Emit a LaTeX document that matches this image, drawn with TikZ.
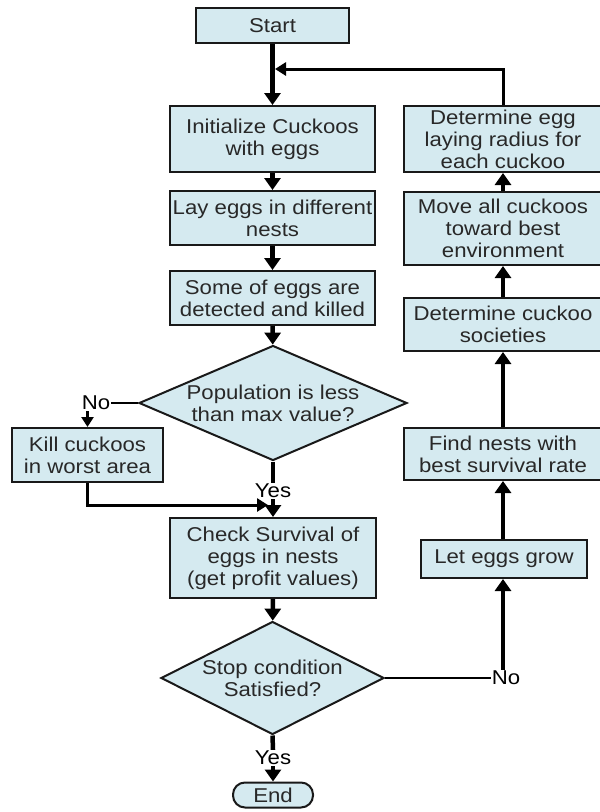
\documentclass[tikz,border=0pt]{standalone}
\usepackage{fontspec}
\setmainfont[FakeStretch=1.11]{Liberation Sans}
\usepackage{tikz}
\usetikzlibrary{shapes.geometric,arrows.meta}
\definecolor{boxblue}{RGB}{213,234,240}
\definecolor{boxtext}{RGB}{40,40,40}

\begin{document}
\begin{tikzpicture}[x=1pt, y=-1pt,
        font=\fontsize{20}{22}\selectfont,
        box/.style={draw=black!90, line width=2pt, fill=boxblue, text=boxtext, align=center, inner sep=0pt},
        decision/.style={diamond, draw=black!90, line width=2pt, fill=boxblue, text=boxtext, align=center, inner sep=0pt},
        lbl/.style={inner sep=1pt, text=black},
        arr/.style={line width=4.5pt, -{Triangle[length=12pt,width=16pt]}},
        arrmid/.style={line width=3pt, -{Triangle[length=11pt,width=13pt]}},
        arrthin/.style={line width=2.5pt, -{Triangle[length=10pt,width=12pt]}},
        plain/.style={line width=2pt}]
            \useasboundingbox (0,0) rectangle (600,812);
            % main column
            \node[box, minimum width=153pt, minimum height=35pt] (start) at (272.5, 25.5) {Start};
            \node[box, minimum width=205pt, minimum height=66pt] (init) at (272.5, 139) {Initialize Cuckoos\\with eggs};
            \node[box, minimum width=205pt, minimum height=54pt] (lay) at (272.5, 218) {Lay eggs in different\\nests};
            \node[box, minimum width=205pt, minimum height=54pt] (some) at (272.5, 298) {Some of eggs are\\detected and killed};
            \node[decision, aspect=2.33, minimum width=268pt, minimum height=115pt] (pop) at (273, 403) {Population is less\\than max value?};
            \node[box, minimum width=151pt, minimum height=54pt] (kill) at (87.5, 455) {Kill cuckoos\\in worst area};
            \node[box, minimum width=206pt, minimum height=80pt] (check) at (273, 558) {Check Survival of\\eggs in nests\\(get profit values)};
            \node[decision, aspect=1.97, minimum width=223pt, minimum height=113pt] (stop) at (272.5, 678) {Stop condition\\Satisfied?};
            \node[box, rounded corners=12pt, minimum width=80pt, minimum height=25pt] (end) at (273, 795) {End};
            % right column
            \node[box, minimum width=198pt, minimum height=66pt] (egg) at (503, 139) {Determine egg\\laying radius for\\each cuckoo};
            \node[box, minimum width=198pt, minimum height=73pt] (move) at (503, 228.5) {Move all cuckoos\\toward best\\environment};
            \node[box, minimum width=198pt, minimum height=53pt] (soc) at (503, 324.5) {Determine cuckoo\\societies};
            \node[box, minimum width=198pt, minimum height=52pt] (find) at (503, 454) {Find nests with\\best survival rate};
            \node[box, minimum width=166pt, minimum height=38pt] (grow) at (504, 559) {Let eggs grow};
            % labels
            \node[lbl] (no1) at (96, 403) {No};
            \node[lbl] (yes1) at (273, 491) {Yes};
            \node[lbl] (no2) at (506, 678) {No};
            \node[lbl] (yes2) at (273, 758) {Yes};
            \coordinate (join) at (275, 69);
            \coordinate (merge) at (268, 505);
            % connectors
            \draw[arr] (start) -- (init);
            \draw[arr] (init) -- (lay);
            \draw[arr] (lay) -- (some);
            \draw[arr] (some) -- (pop);
            \draw[plain] (pop.west) -- (no1.east);
            \draw[arrthin] (no1.south -| kill.north) -- (kill.north);
            \draw[arr, -] (pop.south) -- (yes1.north);
            \draw[arr] (yes1.south) -- (check.north);
            \draw[arrmid] (kill.south) |- (merge);
            \draw[arr] (check) -- (stop);
            \draw[plain] (stop.east) -- (no2.west);
            \draw[arr] (no2.north -| find.south) -- (grow.south -| find.south);
            \draw[arr, -] (stop.south) -- (yes2.north);
            \draw[arr] (yes2.south) -- (end.north);
            \draw[arr] (grow.north -| find.south) -- (find.south);
            \draw[arr] (find) -- (soc);
            \draw[arr] (soc) -- (move);
            \draw[arr] (move) -- (egg);
            \draw[arrmid] (egg.north) |- (join);
    \end{tikzpicture}
\end{document}
